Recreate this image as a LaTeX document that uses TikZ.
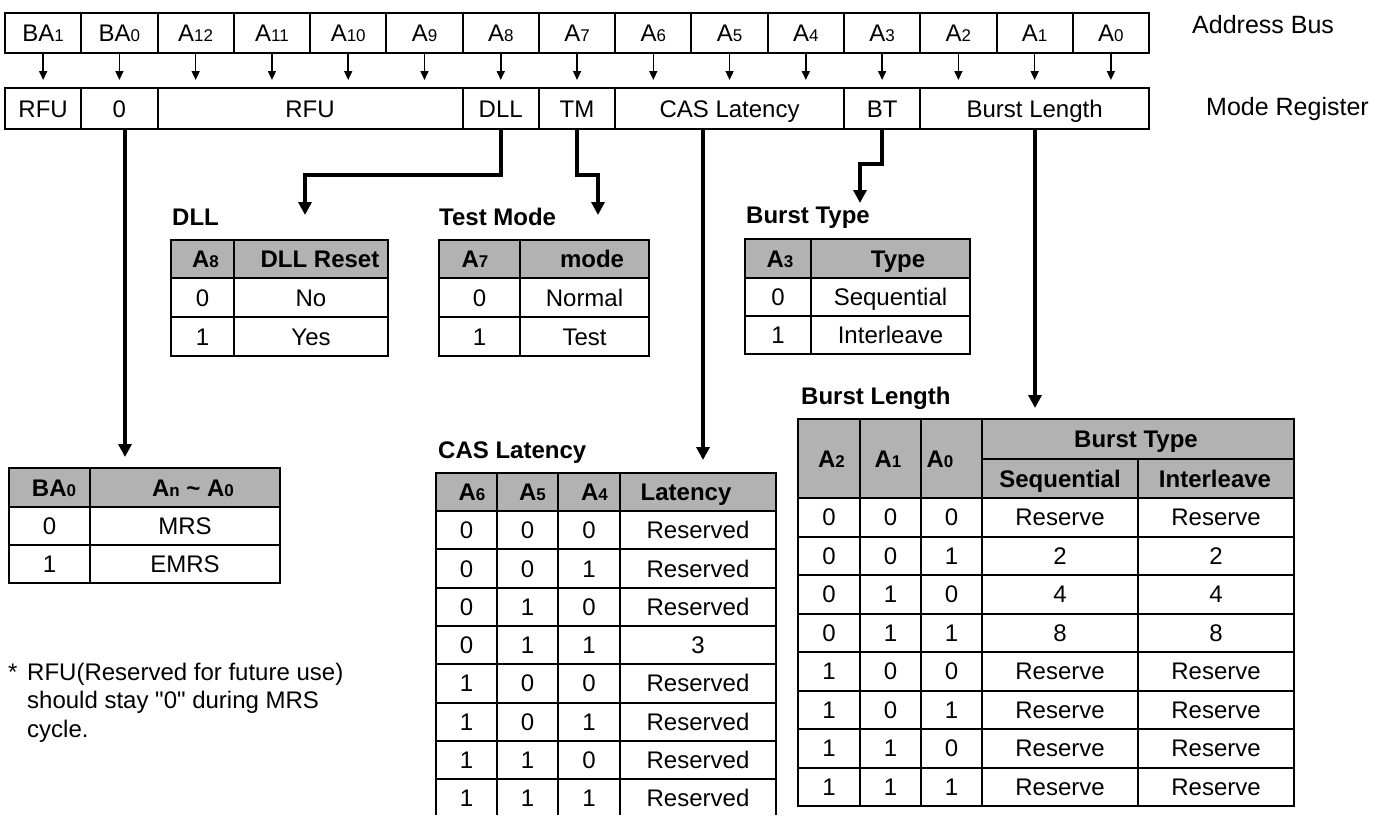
\documentclass[tikz,border=0pt]{standalone}
\usepackage{fontspec}
\setmainfont{Liberation Sans}[Ligatures=TeXOff]
\usetikzlibrary{arrows.meta}
\definecolor{hdr}{RGB}{178,178,178}
\newcommand\sbs[1]{{\fontsize{17}{17}\selectfont #1}}
\begin{document}
\begin{tikzpicture}[x=1pt,y=-1pt,
  grid/.style={draw=black, line width=2pt},
  txt/.style={font=\fontsize{24}{28}\selectfont, inner sep=0pt},
  cellt/.style={txt, anchor=base, yshift=-8.6pt},
  hdrt/.style={cellt, font=\fontsize{24}{28}\selectfont\bfseries},
  ttl/.style={txt, anchor=base west, font=\fontsize{24}{28}\selectfont\bfseries},
  side/.style={inner sep=0pt, anchor=base west, font=\fontsize{25}{28}\selectfont},
  thinarr/.style={line width=1.6pt, -{Triangle[width=8pt,length=9pt]}, shorten >=7pt},
  conn/.style={line width=3.5pt, -{Triangle[width=13pt,length=13pt]}},
  regbox/.style={draw, line width=2pt, txt, anchor=north west, text height=17.2pt, text depth=0pt}
]
\useasboundingbox (0,0) rectangle (1378,815);

% ---------- address bus ----------
\foreach \lab [count=\i from 0] in {BA\sbs{1},BA\sbs{0},A\sbs{12},A\sbs{11},A\sbs{10},A\sbs{9},A\sbs{8},A\sbs{7},A\sbs{6},A\sbs{5},A\sbs{4},A\sbs{3},A\sbs{2},A\sbs{1},A\sbs{0}}
  \node[regbox, minimum width=76.27pt, minimum height=40pt] (ab\i) at ({4+76.27*\i},12) {\lab};

% ---------- mode register ----------
\foreach \s/\e/\lab [count=\i from 0] in {0/1/RFU, 1/2/0, 2/6/RFU, 6/7/DLL, 7/8/TM, 8/11/CAS Latency, 11/12/BT, 12/15/Burst Length}
  \node[regbox, minimum width={76.27pt*(\e-\s)}, minimum height=41pt] (mr\i) at ({4+76.27*\s},87) {\lab};

\node[side] (labab) at (1192,33) {Address Bus};
\node[side] (labmr) at (1206,115) {Mode Register};

\foreach \i in {0,...,14}
  \draw[thinarr] (ab\i.south) -- (ab\i.south |- mr0.north);

% ---------- connectors ----------
\coordinate (ba0tip) at (125,457);
\coordinate (dlltip) at (305,215);
\coordinate (tmtip) at (598,215);
\coordinate (castip) at (703,460);
\coordinate (bttip) at (860,203);
\coordinate (bltip) at (1035,408);
\draw[conn] (mr1.south -| ba0tip) -- (ba0tip);
\draw[conn] (mr3.south) -- ++(0,45) -| (dlltip);
\draw[conn] (mr4.south) -- ++(0,45) -| (tmtip);
\draw[conn] (mr5.south -| castip) -- (castip);
\draw[conn] (mr6.south) -- ++(0,34) -| (bttip);
\draw[conn] (mr7.south -| bltip) -- (bltip);

% ---------- DLL table ----------
\node[ttl] (tdll) at (172,225) {DLL};
\fill[hdr] (171,240) rectangle (388,278);
\draw[grid] (171,240) rectangle (388,356);
\draw[grid] (171,278) -- (388,278) (171,317) -- (388,317) (234,240) -- (234,356);
\node[hdrt] (dllh1) at (205.5,259) {A\sbs{8}};
\node[hdrt] (dllh2) at (320,259) {DLL Reset};
\node[cellt] (dll11) at (202.5,297.5) {0};
\node[cellt] (dll12) at (311,297.5) {No};
\node[cellt] (dll21) at (202.5,336.5) {1};
\node[cellt] (dll22) at (311,336.5) {Yes};

% ---------- Test mode table ----------
\node[ttl] (ttm) at (439,225) {Test Mode};
\fill[hdr] (439,240) rectangle (649,278);
\draw[grid] (439,240) rectangle (649,356);
\draw[grid] (439,278) -- (649,278) (439,317) -- (649,317) (520,240) -- (520,356);
\node[hdrt] (tmh1) at (475,259) {A\sbs{7}};
\node[hdrt] (tmh2) at (592,259) {mode};
\node[cellt] (tm11) at (479.5,297.5) {0};
\node[cellt] (tm12) at (584.5,297.5) {Normal};
\node[cellt] (tm21) at (479.5,336.5) {1};
\node[cellt] (tm22) at (584.5,336.5) {Test};

% ---------- Burst type table ----------
\node[ttl] (tbt) at (746,223) {Burst Type};
\fill[hdr] (745,239) rectangle (970,278);
\draw[grid] (745,239) rectangle (970,354);
\draw[grid] (745,278) -- (970,278) (745,316) -- (970,316) (811,239) -- (811,354);
\node[hdrt] (bth1) at (780,258.5) {A\sbs{3}};
\node[hdrt] (bth2) at (898,258.5) {Type};
\node[cellt] (bt11) at (778,297) {0};
\node[cellt] (bt12) at (890.5,297) {Sequential};
\node[cellt] (bt21) at (778,335) {1};
\node[cellt] (bt22) at (890.5,335) {Interleave};

% ---------- BA0 table ----------
\fill[hdr] (9,468) rectangle (280,507);
\draw[grid] (9,468) rectangle (280,583);
\draw[grid] (9,507) -- (280,507) (9,545) -- (280,545) (90,468) -- (90,583);
\node[hdrt] (bah1) at (54,487.5) {BA\sbs{0}};
\node[hdrt] (bah2) at (193,487.5) {A\sbs{n} \textasciitilde{} A\sbs{0}};
\node[cellt] (ba11) at (49.5,526) {0};
\node[cellt] (ba12) at (185,526) {MRS};
\node[cellt] (ba21) at (49.5,564) {1};
\node[cellt] (ba22) at (185,564) {EMRS};

% ---------- note ----------
\node[txt, anchor=base west] (nstar) at (8,680) {*};
\node[txt, anchor=base west] (n1) at (27,680) {RFU(Reserved for future use)};
\node[txt, anchor=base west] (n2) at (27,708) {should stay "0" during MRS};
\node[txt, anchor=base west] (n3) at (27,737) {cycle.};

% ---------- CAS latency table ----------
\node[ttl] (tcas) at (438,458) {CAS Latency};
\fill[hdr] (436,473) rectangle (776,511);
\draw[grid] (436,815) -- (436,473) -- (776,473) -- (776,815);
\foreach \x in {497,558,620} \draw[grid] (\x,473) -- (\x,815);
\foreach \k in {0,...,7} \draw[grid] (436,{511+38.3*\k}) -- (776,{511+38.3*\k});
\node[hdrt] (cash1) at (472,492) {A\sbs{6}};
\node[hdrt] (cash2) at (532.5,492) {A\sbs{5}};
\node[hdrt] (cash3) at (594.5,492) {A\sbs{4}};
\node[hdrt] (cash4) at (686,492) {Latency};
\foreach \a/\b/\c/\v [count=\k from 0] in {0/0/0/Reserved,0/0/1/Reserved,0/1/0/Reserved,0/1/1/3,1/0/0/Reserved,1/0/1/Reserved,1/1/0/Reserved,1/1/1/Reserved}{
  \node[cellt] (cas-\k-a) at (466.5,{530.15+38.3*\k}) {\a};
  \node[cellt] (cas-\k-b) at (527.5,{530.15+38.3*\k}) {\b};
  \node[cellt] (cas-\k-c) at (589,{530.15+38.3*\k}) {\c};
  \node[cellt] (cas-\k-v) at (698,{530.15+38.3*\k}) {\v};
}

% ---------- Burst length table ----------
\node[ttl] (tbl) at (801,404) {Burst Length};
\fill[hdr] (798,419) rectangle (1294,498);
\draw[grid] (798,419) rectangle (1294,806);
\foreach \x in {860,921,982} \draw[grid] (\x,419) -- (\x,806);
\draw[grid] (1138,459) -- (1138,806) (982,459) -- (1294,459);
\foreach \k in {0,...,7} \draw[grid] (798,{498+38.5*\k}) -- (1294,{498+38.5*\k});
\node[hdrt] (blh1) at (831.5,458.5) {A\sbs{2}};
\node[hdrt] (blh2) at (888,458.5) {A\sbs{1}};
\node[hdrt] (blh3) at (940,458.5) {A\sbs{0}};
\node[hdrt] (blh4) at (1136,439) {Burst Type};
\node[hdrt] (blh5) at (1060,478.5) {Sequential};
\node[hdrt] (blh6) at (1215,478.5) {Interleave};
\foreach \a/\b/\c/\s/\t [count=\k from 0] in {0/0/0/Reserve/Reserve,0/0/1/2/2,0/1/0/4/4,0/1/1/8/8,1/0/0/Reserve/Reserve,1/0/1/Reserve/Reserve,1/1/0/Reserve/Reserve,1/1/1/Reserve/Reserve}{
  \node[cellt] (bl-\k-a) at (829,{517.25+38.5*\k}) {\a};
  \node[cellt] (bl-\k-b) at (890.5,{517.25+38.5*\k}) {\b};
  \node[cellt] (bl-\k-c) at (951.5,{517.25+38.5*\k}) {\c};
  \node[cellt] (bl-\k-s) at (1060,{517.25+38.5*\k}) {\s};
  \node[cellt] (bl-\k-t) at (1216,{517.25+38.5*\k}) {\t};
}
\end{tikzpicture}
\end{document}
